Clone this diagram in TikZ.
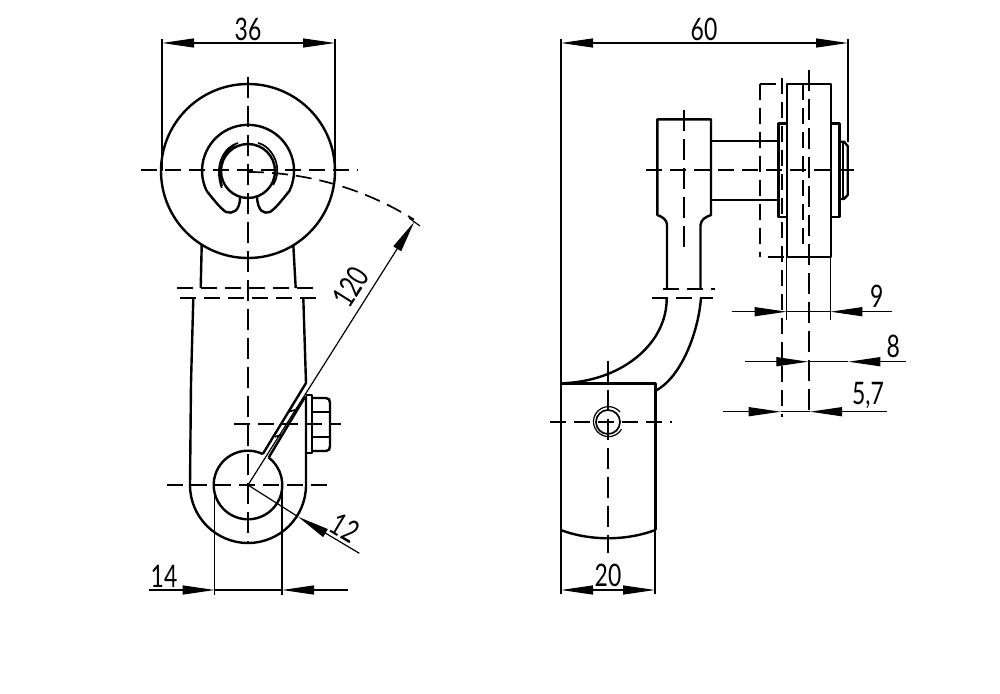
\documentclass[tikz,border=0pt]{standalone}
\usepackage{fontspec}
\usepackage{tikz}
\usetikzlibrary{arrows.meta}
\setmainfont[FakeStretch=0.74]{Lato}
\tikzset{
  body/.style={line width=2.4pt,line join=round},
  clipline/.style={line width=1.7pt},
  axis/.style={line width=1.9pt,dash pattern=on 21pt off 8pt},
  cut/.style={line width=1.7pt,dash pattern=on 16pt off 8pt},
  dim/.style={line width=1.2pt},
  dimtip/.tip={Triangle[length=32pt,width=9pt]},
  dimtext/.style={font=\fontsize{31}{31}\selectfont,inner sep=0pt}
}
\begin{document}
\begin{tikzpicture}[x=1pt,y=-1pt]
  \useasboundingbox (0,0) rectangle (1000,693);

  % Left view: roller
  \draw[body] (248,171) circle[radius=87];
  \draw[body] (206.7,191) arc[start angle=154,end angle=386,radius=46]
    .. controls (282,200) and (276,208) .. (270,212) .. controls (264,214) and (258,212) .. (257,197);
  \draw[body] (206.7,191) .. controls (214,200) and (220,208) .. (226,212) .. controls (232,214) and (240,212) .. (240,197);
  \draw[body] (248,171) circle[radius=27];
  % Clip
  \draw[clipline] (238,143) .. controls (226,146) and (213,163) .. (221.7,188);
  \draw[clipline] (235,145) .. controls (224,150) and (217,168) .. (222,186);
  \draw[clipline] (258,143) .. controls (272,146) and (284,168) .. (273,185);

  % Left view: lever
  \draw[body] (201.7,245) -- (200.7,288);
  \draw[body] (293.3,245) -- (295.7,288);
  \draw[body] (193.3,298) -- (191,383) -- (190,485) arc[start angle=180,end angle=0,radius=58] -- (306,396);
  \draw[body] (303.3,298) -- (306,383) -- (262.76,454.04);
  \draw[body] (305,397) -- (268.64,457.6);
  \draw[body] (262.76,454.04) arc[start angle=-64.5,end angle=-413,radius=34.3];
  \draw[clipline] (288.3,411.7) -- (295,410);
  \draw[clipline] (275,436.7) -- (281.7,435);
  \draw[cut] (177,288) -- (315,288);
  \draw[cut] (180,298) -- (318,298);
  % Bolt
  \draw[body] (305.5,395) -- (311.7,395) -- (311.7,453) -- (305.5,453);
  \draw[body] (311.7,398) -- (326,398) .. controls (329,398) and (330,400) .. (330,403) -- (330,446) .. controls (330,449) and (329,451) .. (326,451) -- (311.7,451);
  \draw[body] (311.7,411.7) -- (330,411.7);
  \draw[body] (311.7,436.7) -- (330,436.7);

  % Left view: centre lines
  \draw[axis] (248,77) -- (248,543);
  \draw[cut] (141,170) -- (358,170);
  \draw[cut] (167,485) -- (329,485);
  \draw[cut] (234,424) -- (341,424);
  \draw[cut] (248,172) arc[start angle=-90,end angle=-58,radius=313];

  % Left view: dimensions
  \draw[dim] (162,39) -- (162,171);
  \draw[dim] (335,39) -- (335,171);
  \draw[dim,dimtip-dimtip] (162,43) -- (335,43);
  \node[dimtext] (lbl36) at (248,29) {36};
  \draw[dim,-dimtip] (248,485) -- (414.3,221.7);
  \draw[dim] (409,218) -- (420,226);
  \node[dimtext,rotate=57.7] (lbl120) at (351,287) {120};
  \draw[dim] (248,485) -- (298,516.7);
  \draw[dim,-dimtip] (359.3,553.3) -- (298,516.7);
  \node[dimtext,rotate=-31] (lbl12) at (345,528) {12};
  \draw[dim] (214.7,485) -- (214.7,595);
  \draw[dim] (282,485) -- (282,595);
  \draw[dim,-dimtip] (149,590) -- (214.7,590);
  \draw[dim,-dimtip] (348,590) -- (282,590);
  \draw[dim] (214.7,590) -- (282,590);
  \node[dimtext] (lbl14) at (164,576) {14};

  % Right view: lever head
  \draw[body] (667,289) -- (667,225) .. controls (667,220) and (663,217) .. (657.3,215) -- (657.3,119.3) -- (711,119.3) -- (711,215) .. controls (705,217) and (701,220) .. (700.5,225) -- (700.5,289);
  \draw[body] (711,141) -- (778.3,141);
  \draw[body] (711,200) -- (778.3,200);
  \draw[body] (666.7,298) .. controls (667,345) and (620,382) .. (560.7,383.3);
  \draw[body] (701,298) .. controls (698,335) and (680,378) .. (655.7,390.7);
  \draw[cut] (662.7,289.3) -- (715,289.3);
  \draw[cut] (651.7,298) -- (713,298);
  % Right view: clamp block
  \draw[body] (560.7,530) -- (560.7,383.3) -- (655.3,383.3) -- (655.3,530);
  \draw[body] (560.7,530) .. controls (590,541) and (626,541) .. (655.3,530);
  \draw[clipline] (608,422) circle[radius=12];
  \draw[dim] (620,412) arc[start angle=-40,end angle=-330,radius=15];
  % Right view: roller
  \draw[body] (787,84) rectangle (830.7,256.7);
  \draw[body] (787,123.3) -- (778.3,123.3) -- (778.3,216.7) -- (787,216.7);
  \draw[body] (830.7,123.3) -- (839.3,123.3) -- (839.3,216.7) -- (830.7,216.7);
  \draw[body] (839.3,141.7) -- (844,141.7) -- (847.7,146) -- (847.7,195) -- (844,199) -- (839.3,199);
  \draw[clipline] (842.7,141.7) -- (842.7,199);
  % Right view: hidden lines
  \draw[cut] (760,84) -- (781.7,84);
  \draw[cut] (760,84) -- (760,256.7);
  \draw[cut] (768,257) -- (787,257);
  \draw[cut] (781.7,78) -- (781.7,416.7);
  \draw[cut] (803.3,84) -- (803.3,250);
  \draw[axis] (809,70) -- (809,416.7);
  \draw[axis] (684,110) -- (684,250);
  \draw[cut] (646,170.3) -- (854,170.3);
  \draw[axis] (608,360.7) -- (608,552.7);
  \draw[cut] (550,422) -- (671.7,422);

  % Right view: dimensions
  \draw[dim] (561,39) -- (561,383);
  \draw[dim] (848,39) -- (848,142);
  \draw[dim,dimtip-dimtip] (561,43) -- (848,43);
  \node[dimtext] (lbl60) at (704,29) {60};
  \draw[dim] (561,530) -- (561,594);
  \draw[dim] (655,530) -- (655,594);
  \draw[dim,dimtip-dimtip] (561,590) -- (655,590);
  \node[dimtext] (lbl20) at (608,575) {20};
  \draw[dim] (786.7,257) -- (786.7,320);
  \draw[dim] (830.3,257) -- (830.3,320);
  \draw[dim,-dimtip] (731.7,311.7) -- (786.7,311.7);
  \draw[dim,-dimtip] (891.7,311.7) -- (830.3,311.7);
  \draw[dim] (786.7,311.7) -- (830.3,311.7);
  \node[dimtext] (lbl9) at (876.7,296) {9};
  \draw[dim,-dimtip] (745,361.7) -- (808.3,361.7);
  \draw[dim,-dimtip] (905.7,361.7) -- (848.3,361.7);
  \draw[dim] (808.3,361.7) -- (848.3,361.7);
  \node[dimtext] (lbl8) at (893.3,346) {8};
  \draw[dim,-dimtip] (723.3,411.7) -- (780.7,411.7);
  \draw[dim,-dimtip] (886.7,411.7) -- (810,411.7);
  \draw[dim] (780.7,411.7) -- (810,411.7);
  \node[dimtext] (lbl57) at (868,395) {5,7};
\end{tikzpicture}
\end{document}
